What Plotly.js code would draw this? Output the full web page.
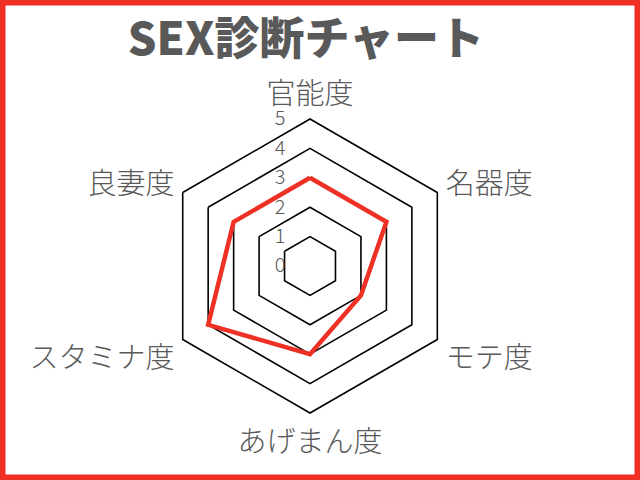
<!DOCTYPE html>
<html>
<head>
<meta charset="utf-8">
<script src="https://cdn.plot.ly/plotly-3.0.1.min.js"></script>
<style>
  html, body { margin: 0; padding: 0; background: #fff; }
  #chart { width: 640px; height: 480px; }
</style>
</head>
<body>
<div id="chart"></div>
<script>
// 診断項目（時計回り、上から）
const categories = ['官能度', '名器度', 'モテ度', 'あげまん度', 'スタミナ度', '良妻度'];
const scores = [3, 3, 2, 3, 4, 3];
const radialTicks = [0, 1, 2, 3, 4, 5];

const gray = '#595959';
const red = '#EE3124';
const jpFont = '"Noto Sans CJK JP", "Noto Sans", sans-serif';

// close the polygon
const theta = categories.concat([categories[0]]);
const r = scores.concat([scores[0]]);

var trace = {
  type: 'scatterpolar',
  r: r,
  theta: theta,
  mode: 'lines',
  line: { color: red, width: 4.5, shape: 'linear' },
  hoverinfo: 'skip',
  showlegend: false
};

var layout = {
  width: 640,
  height: 480,
  margin: { l: 0, r: 0, t: 0, b: 0 },
  paper_bgcolor: '#fff',
  title: {
    text: 'SEX診断チャート',
    font: { family: jpFont, size: 45, color: gray, weight: 900 },
    x: 0.478, xanchor: 'center',
    y: 0.918, yanchor: 'middle',
    xref: 'container', yref: 'container'
  },
  polar: {
    domain: { x: [0.2547, 0.7141], y: [0.1396, 0.7521] },
    gridshape: 'linear',
    bgcolor: '#fff',
    angularaxis: {
      rotation: 90,
      direction: 'clockwise',
      showgrid: false,
      showline: true,
      linecolor: '#000',
      linewidth: 1.6,
      ticks: 'outside',
      ticklen: 3,
      tickcolor: 'rgba(0,0,0,0)',
      tickfont: { family: jpFont, size: 29, color: gray, weight: 300 }
    },
    radialaxis: {
      range: [0, 5],
      tickvals: radialTicks,
      ticktext: radialTicks.map(String),
      angle: 90,
      tickangle: 90,
      side: 'counterclockwise',
      showline: false,
      showgrid: true,
      gridcolor: '#000',
      gridwidth: 1.6,
      ticks: 'outside',
      ticklen: 17,
      tickcolor: 'rgba(0,0,0,0)',
      tickfont: { family: jpFont, size: 20, color: gray, weight: 300 }
    }
  },
  shapes: [{
    type: 'rect', xref: 'paper', yref: 'paper',
    x0: 0, x1: 1, y0: 0, y1: 1,
    line: { color: red, width: 11 },
    fillcolor: 'rgba(0,0,0,0)'
  }]
};

Plotly.newPlot('chart', [trace], layout, { displayModeBar: false, staticPlot: true });
</script>
</body>
</html>
